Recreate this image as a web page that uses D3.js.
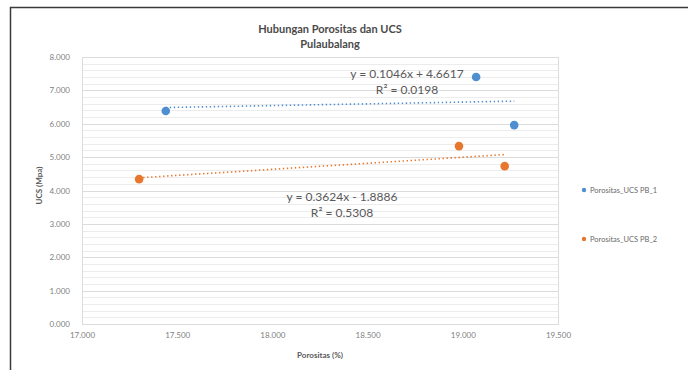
<!DOCTYPE html>
<html><head><meta charset="utf-8">
<script src="https://cdn.jsdelivr.net/npm/d3@7"></script>
<style>
html,body{margin:0;padding:0;background:#fff;}
svg{display:block;font-family:Lato,"Open Sans",sans-serif;}
</style></head>
<body>
<script>
// ---- data ----
const seriesNames = ["Porositas_UCS PB_1", "Porositas_UCS PB_2"];
const porositasPB1 = [17.44, 19.07, 19.27];
const ucsPB1 = [6.38, 7.40, 5.96];
const porositasPB2 = [17.30, 18.98, 19.22];
const ucsPB2 = [4.34, 5.33, 4.73];
const trendSlope = [0.1046, 0.3624];
const trendIntercept = [4.6617, -1.8886];
const trendEquation = ["y = 0.1046x + 4.6617", "y = 0.3624x - 1.8886"];
const trendR2 = ["R² = 0.0198", "R² = 0.5308"];
const xTicks = [17.0, 17.5, 18.0, 18.5, 19.0, 19.5];
const yTicks = [0, 1, 2, 3, 4, 5, 6, 7, 8];
const titleLines = ["Hubungan Porositas dan UCS", "Pulaubalang"];
const xTitle = "Porositas (%)";
const yTitle = "UCS (Mpa)";

const colors = ["#4f8fcf", "#e8772e"];
const W = 688, H = 370;
const plot = {l: 82, r: 558, t: 57, b: 324};

const svg = d3.select("body").append("svg").attr("width", W).attr("height", H);

// outer frame (extends past viewport on right/bottom)
svg.append("rect").attr("x", 10.5).attr("y", 7.5).attr("width", 700).attr("height", 400)
  .attr("fill", "none").attr("stroke", "#3a3a3a").attr("stroke-width", 1.5);

const x = d3.scaleLinear().domain([17, 19.5]).range([plot.l, plot.r]);
const y = d3.scaleLinear().domain([0, 8]).range([plot.b, plot.t]);

// minor gridlines
const minor = d3.range(0, 8.0001, 0.2);
svg.append("g").selectAll("line").data(minor).join("line")
  .attr("x1", plot.l).attr("x2", plot.r)
  .attr("y1", d => Math.round(y(d)) + 0.5).attr("y2", d => Math.round(y(d)) + 0.5)
  .attr("stroke", d => Math.abs(d - Math.round(d)) < 1e-6 ? "#dcdcdc" : "#ececec")
  .attr("stroke-width", 1);

// plot area border
svg.append("rect").attr("x", plot.l + 0.5).attr("y", plot.t + 0.5)
  .attr("width", plot.r - plot.l).attr("height", plot.b - plot.t)
  .attr("fill", "none").attr("stroke", "#dcdcdc");

// axes (labels only)
const fmt = d3.format(".3f");
const yAxis = svg.append("g").attr("transform", `translate(${plot.l},0)`)
  .call(d3.axisLeft(y).tickValues(yTicks).tickFormat(fmt).tickSize(0).tickPadding(12));
const xAxis = svg.append("g").attr("transform", `translate(0,${plot.b})`)
  .call(d3.axisBottom(x).tickValues(xTicks).tickFormat(fmt).tickSize(0).tickPadding(8));
[xAxis, yAxis].forEach(g => {
  g.select(".domain").remove();
  g.selectAll("text").attr("fill", "#808080").style("font-size", "8px")
    .style("font-family", "Lato, sans-serif");
});

// titles
svg.append("g").selectAll("text").data(titleLines).join("text")
  .attr("x", 330).attr("y", (d, i) => 33 + i * 15)
  .attr("text-anchor", "middle").attr("fill", "#4a4a4a")
  .style("font-size", "11px").style("font-weight", "bold").text(d => d);

svg.append("text").attr("x", (plot.l + plot.r) / 2).attr("y", 358)
  .attr("text-anchor", "middle").attr("fill", "#595959")
  .style("font-size", "8px").style("font-weight", "bold").text(xTitle);

svg.append("text").attr("transform", `translate(42,${(plot.t + plot.b) / 2 - 5}) rotate(-90)`)
  .attr("text-anchor", "middle").attr("fill", "#595959")
  .style("font-size", "8px").style("font-weight", "bold").text(yTitle);

// series
const series = [
  {xs: porositasPB1, ys: ucsPB1},
  {xs: porositasPB2, ys: ucsPB2}
];

series.forEach((s, i) => {
  const [x0, x1] = d3.extent(s.xs);
  const pts = [x0, x1].map(v => [v, trendSlope[i] * v + trendIntercept[i]]);
  svg.append("path")
    .attr("d", d3.line().x(d => x(d[0])).y(d => y(d[1]))(pts))
    .attr("fill", "none").attr("stroke", colors[i]).attr("stroke-width", 1.6)
    .attr("stroke-dasharray", "1.4,2.6").attr("stroke-linecap", "butt");
});

series.forEach((s, i) => {
  svg.append("g").selectAll("circle").data(s.xs.map((v, k) => [v, s.ys[k]])).join("circle")
    .attr("cx", d => x(d[0])).attr("cy", d => y(d[1])).attr("r", 4.3)
    .attr("fill", colors[i]);
});

// trendline labels
const labelPos = [[407, 78], [342, 201]];
labelPos.forEach((p, i) => {
  const t = svg.append("text").attr("x", p[0]).attr("y", p[1])
    .attr("text-anchor", "middle").attr("fill", "#595959").style("font-size", "12px");
  t.append("tspan").attr("x", p[0]).attr("dy", 0).text(trendEquation[i]);
  t.append("tspan").attr("x", p[0]).attr("dy", 16).text(trendR2[i]);
});

// legend
const legY = [190, 239];
seriesNames.forEach((n, i) => {
  svg.append("circle").attr("cx", 584).attr("cy", legY[i]).attr("r", 2.2).attr("fill", colors[i]);
  svg.append("text").attr("x", 590).attr("y", legY[i] + 3).attr("fill", "#6a6a6a")
    .style("font-size", "7.5px").text(n);
});
</script>
</body></html>
